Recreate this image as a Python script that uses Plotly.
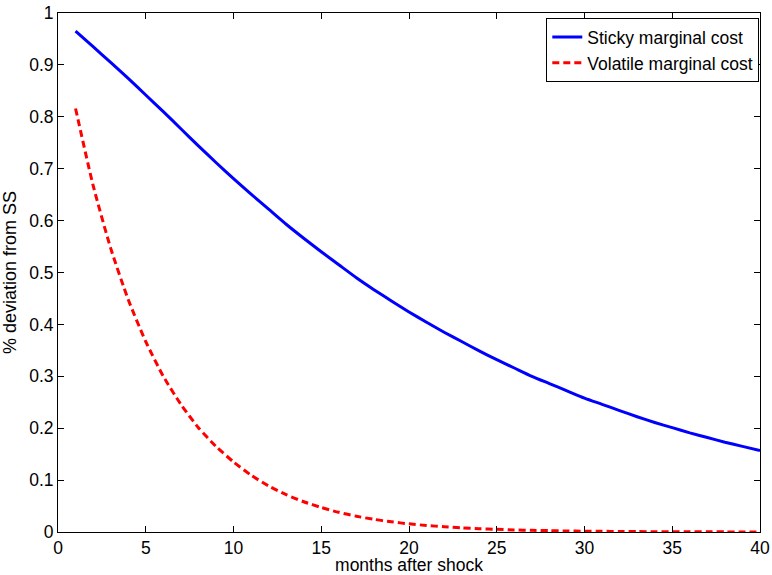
import plotly.graph_objects as go

months = list(range(1, 41))
sticky = [0.965, 0.935, 0.905, 0.874, 0.842, 0.810, 0.777, 0.744, 0.712, 0.681,
          0.651, 0.622, 0.593, 0.566, 0.540, 0.515, 0.490, 0.467, 0.445, 0.424,
          0.404, 0.385, 0.367, 0.349, 0.332, 0.316, 0.300, 0.286, 0.272, 0.258,
          0.246, 0.234, 0.222, 0.211, 0.201, 0.191, 0.182, 0.173, 0.165, 0.157]
volatile = [0.816, 0.668, 0.547, 0.448, 0.367, 0.300, 0.246, 0.201, 0.165, 0.135,
            0.1094, 0.0887, 0.0719, 0.0583, 0.0472, 0.0379, 0.0304, 0.0244, 0.0196, 0.0157,
            0.0126, 0.0101, 0.0080, 0.0064, 0.0051, 0.0040, 0.0032, 0.0026, 0.0020, 0.0016,
            0.0013, 0.0010, 0.0008, 0.0006, 0.0005, 0.0004, 0.0003, 0.00025, 0.0002, 0.00016]
x_ticks = [0, 5, 10, 15, 20, 25, 30, 35, 40]
y_ticks = [0, 0.1, 0.2, 0.3, 0.4, 0.5, 0.6, 0.7, 0.8, 0.9, 1]
y_tick_labels = ["0", "0.1", "0.2", "0.3", "0.4", "0.5", "0.6", "0.7", "0.8", "0.9", "1"]

FONT = "Liberation Sans, Arial, Helvetica, sans-serif"

fig = go.Figure()
fig.add_trace(go.Scatter(x=months, y=sticky, mode="lines", name="Sticky marginal cost",
                         line=dict(color="#0000ff", width=3, shape="spline", smoothing=0.6)))
fig.add_trace(go.Scatter(x=months, y=volatile, mode="lines", name="Volatile marginal cost",
                         line=dict(color="#ff0000", width=3, dash="7px,4px", shape="spline", smoothing=0.6)))

axis_common = dict(showgrid=False, zeroline=False, showline=True, linecolor="black",
                   linewidth=1, mirror="ticks", ticks="inside", ticklen=6, tickcolor="black",
                   automargin=False, ticklabeloverflow="allow",
                   tickfont=dict(family=FONT, size=17.5, color="black"))

fig.update_layout(
    width=772, height=575,
    margin=dict(l=58, r=12, t=13, b=43),
    paper_bgcolor="white", plot_bgcolor="white",
    font=dict(family=FONT, size=17.5, color="black"),
    xaxis=dict(range=[0, 40], tickvals=x_ticks, ticktext=[str(v) for v in x_ticks],
               title=dict(text="months after shock", font=dict(family=FONT, size=17.5), standoff=14),
               **axis_common),
    yaxis=dict(range=[0, 1], tickvals=y_ticks, ticktext=y_tick_labels,
               title=dict(text="% deviation from SS", font=dict(family=FONT, size=18), standoff=10),
               **axis_common),
    legend=dict(x=0.999, y=0.990, xanchor="right", yanchor="top",
                bordercolor="black", borderwidth=1, bgcolor="white",
                font=dict(family=FONT, size=17.5, color="black"),
                tracegroupgap=0, itemwidth=30),
    showlegend=True,
)

fig.write_html("out.html",
               config={"displayModeBar": False},
               post_script="document.body.style.margin='0';document.body.style.overflow='hidden';")
